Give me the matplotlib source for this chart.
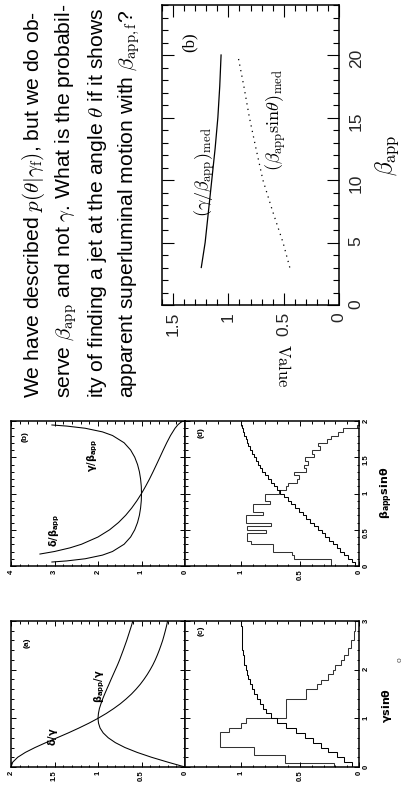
import matplotlib.pyplot as plt
from matplotlib.ticker import FixedLocator, MultipleLocator

# The slide is shown rotated 90 degrees (text reads bottom to top), so every
# plot is drawn with its original x axis running upward and its y axis
# running to the left.

plt.rcParams["font.family"] = ["Liberation Sans", "DejaVu Sans"]
plt.rcParams["mathtext.fontset"] = "cm"

W, H = 404, 790

# -- paragraph text --
text_lines = [
    r"We have described $p(\theta|\gamma_{\rm f})$, but we do ob-",
    r"serve $\beta_{\rm app}$ and not $\gamma$. What is the probabil-",
    r"ity of finding a jet at the angle $\theta$ if it shows",
    r"apparent superluminal motion with $\beta_{\rm app,f}$?",
]
line_x = [34, 66, 98, 129]

# -- right plot: median values vs beta_app --
beta_med = [3, 5, 7.5, 10, 12.5, 15, 17.5, 20]
gamma_over_beta_med = [1.245, 1.21, 1.18, 1.15, 1.12, 1.095, 1.078, 1.066]
beta_sin_med = [0.445, 0.506, 0.60, 0.688, 0.75, 0.81, 0.86, 0.915]
value_ticks = [0, 0.5, 1, 1.5]
value_tick_labels = ["0", "0.5", "1", "1.5"]
beta_ticks = [0, 5, 10, 15, 20]
beta_tick_labels = ["0", "5", "10", "15", "20"]

# -- panel (a): ratios vs gamma sin(theta) --
gsin = [0.0, 0.1, 0.2, 0.3, 0.4, 0.5, 0.6, 0.7, 0.8, 0.9, 1.0,
        1.1, 1.2, 1.3, 1.4, 1.5, 1.6, 1.7, 1.8, 1.9, 2.0,
        2.1, 2.2, 2.3, 2.4, 2.5, 2.6, 2.7, 2.8, 2.9, 3.0]
delta_over_gamma = [2.0, 1.98, 1.923, 1.835, 1.724, 1.6, 1.471, 1.342, 1.22, 1.105, 1.0,
                    0.905, 0.82, 0.743, 0.676, 0.615, 0.562, 0.514, 0.472, 0.434, 0.4,
                    0.369, 0.342, 0.318, 0.296, 0.276, 0.257, 0.241, 0.226, 0.212, 0.2]
bapp_over_gamma = [0.0, 0.198, 0.385, 0.55, 0.69, 0.8, 0.882, 0.94, 0.976, 0.994, 1.0,
                   0.995, 0.984, 0.966, 0.946, 0.923, 0.899, 0.874, 0.85, 0.825, 0.8,
                   0.775, 0.752, 0.731, 0.71, 0.69, 0.67, 0.652, 0.634, 0.616, 0.6]

# -- panel (b): ratios vs beta_app sin(theta) --
bsin_g = [0.055, 0.07, 0.1, 0.15, 0.2, 0.3, 0.4, 0.5, 0.6, 0.7, 0.8, 0.9, 1.0,
          1.1, 1.2, 1.3, 1.4, 1.5, 1.6, 1.7, 1.8, 1.85, 1.9, 1.93, 1.945]
gamma_over_bapp = [3.06, 2.72, 2.294, 1.898, 1.667, 1.4, 1.25, 1.155, 1.091, 1.048, 1.021, 1.005, 1.0,
                   1.005, 1.021, 1.048, 1.091, 1.155, 1.25, 1.4, 1.667, 1.898, 2.294, 2.72, 3.06]
bsin_d = [0.165, 0.2, 0.25, 0.3, 0.4, 0.5, 0.6, 0.7, 0.8, 0.9, 1.0,
          1.1, 1.2, 1.3, 1.4, 1.5, 1.6, 1.7, 1.8, 1.9, 1.95, 1.98, 1.99]
delta_over_bapp = [3.335, 3.0, 2.646, 2.38, 2.0, 1.732, 1.528, 1.363, 1.225, 1.106, 1.0,
                   0.905, 0.816, 0.734, 0.655, 0.577, 0.5, 0.42, 0.333, 0.229, 0.16, 0.1, 0.071]

# -- panel (c): histogram and cumulative of gamma sin(theta) --
c_edges = [0, 0.08, 0.24, 0.42, 0.72, 0.8, 0.9, 1.0, 1.4, 1.6, 1.7,
           1.78, 1.92, 2.0, 2.1, 2.2, 2.3, 2.45, 2.6, 2.8, 3.0]
c_hist = [0.21, 0.63, 0.89, 1.18, 1.11, 1.0, 0.96, 0.62, 0.45, 0.36,
          0.32, 0.26, 0.22, 0.2, 0.15, 0.13, 0.09, 0.07, 0.04, 0.03]
c_cum = [0.0, 0.06, 0.125, 0.19, 0.26, 0.325, 0.39, 0.46, 0.54, 0.62, 0.7,
         0.75, 0.79, 0.82, 0.845, 0.87, 0.89, 0.91, 0.925, 0.94, 0.955,
         0.965, 0.975, 0.982, 0.987, 0.991, 0.994, 0.996, 0.998, 0.999, 1.0]

# -- panel (d): histogram and cumulative of beta_app sin(theta) --
d_edges = [0.05 * i for i in range(41)]
d_hist = [0.24, 0.24, 0.55, 0.57, 0.73, 0.73, 0.92, 0.95, 0.95, 0.79,
          0.95, 0.75, 0.96, 0.96, 0.82, 0.9, 0.9, 0.76, 0.8, 0.8,
          0.68, 0.62, 0.6, 0.53, 0.51, 0.55, 0.45, 0.47, 0.43, 0.46,
          0.38, 0.4, 0.33, 0.35, 0.27, 0.24, 0.18, 0.14, 0.02, 0.0]
d_cum = [0.0, 0.03, 0.062, 0.094, 0.125, 0.158, 0.19, 0.222, 0.254, 0.286,
         0.318, 0.35, 0.382, 0.415, 0.447, 0.479, 0.511, 0.543, 0.575, 0.608,
         0.64, 0.67, 0.7, 0.726, 0.752, 0.777, 0.8, 0.823, 0.845, 0.863,
         0.88, 0.896, 0.912, 0.926, 0.94, 0.953, 0.965, 0.976, 0.985, 0.993, 1.0]


def box(x0, y0, x1, y1):
    # pixel box, origin at top-left -> figure fraction rect
    return [x0 / W, 1 - y1 / H, (x1 - x0) / W, (y1 - y0) / H]


def px(x, y):
    return x / W, 1 - y / H


fig = plt.figure(figsize=(W / 100, H / 100), dpi=100)

# PARAGRAPH
for x, line in zip(line_x, text_lines):
    fig.text(*px(x, 398), line, rotation=90, ha="center", va="bottom",
             fontsize=15.2)

# VALUE vs BETA_APP PLOT
ax = fig.add_axes(box(162, 5, 339, 305))
ax.plot(gamma_over_beta_med, beta_med, color="k", lw=0.9)
ax.plot(beta_sin_med, beta_med, color="k", lw=0.9, ls=(0, (1, 3.5)))
ax.set_xlim(1.6, 0)
ax.set_ylim(0, 24)
ax.xaxis.set_major_locator(FixedLocator(value_ticks))
ax.xaxis.set_ticklabels(value_tick_labels)
ax.xaxis.set_minor_locator(MultipleLocator(0.1))
ax.yaxis.set_major_locator(FixedLocator(beta_ticks))
ax.yaxis.set_ticklabels(beta_tick_labels)
ax.yaxis.set_minor_locator(MultipleLocator(1))
ax.tick_params(which="both", direction="in", top=True, bottom=True,
               left=True, right=True, labelleft=False, labelright=True,
               labelrotation=90, labelsize=12.5, labelcolor="0.15", width=0.8)
ax.tick_params(which="major", length=8.5)
ax.tick_params(which="minor", length=4.3)
ax.tick_params(axis="x", pad=5)
ax.tick_params(axis="y", pad=7)
for s in ax.spines.values():
    s.set_linewidth(1.1)

fig.text(*px(190, 42), "(b)", rotation=90, ha="center", va="center",
         fontsize=12, family="Liberation Serif")
fig.text(*px(205, 172), r"$(\gamma/\beta_{\rm app})_{\rm med}$", rotation=90,
         ha="center", va="center", fontsize=13)
fig.text(*px(276, 120), r"$(\beta_{\rm app}{\rm sin}\theta)_{\rm med}$",
         rotation=90, ha="center", va="center", fontsize=13)
fig.text(*px(387, 155), r"$\beta_{\rm app}$", rotation=90, ha="center",
         va="center", fontsize=17)
fig.text(*px(283, 366), r"$\rm Value$", rotation=270, ha="center",
         va="center", fontsize=12)


# FOUR-PANEL FIGURE
def panel(rect, xmax, xmaj, xmin, xlabs, ymax, ymaj, ymin, ylabs, right):
    a = fig.add_axes(rect)
    a.set_xlim(xmax, 0)
    a.set_ylim(0, ymax)
    a.xaxis.set_major_locator(FixedLocator(xmaj))
    a.xaxis.set_ticklabels(xlabs)
    a.xaxis.set_minor_locator(MultipleLocator(xmin))
    a.yaxis.set_major_locator(FixedLocator(ymaj))
    a.yaxis.set_ticklabels(ylabs)
    a.yaxis.set_minor_locator(MultipleLocator(ymin))
    a.tick_params(which="both", direction="in", top=True, bottom=True,
                  left=True, right=True, labelleft=False, labelright=right,
                  labelrotation=90, labelsize=5.5, width=0.7, pad=2.5)
    a.tick_params(which="major", length=3.5)
    a.tick_params(which="minor", length=1.8)
    for lbl in a.get_xticklabels() + a.get_yticklabels():
        lbl.set_fontweight("bold")
    for s in a.spines.values():
        s.set_linewidth(1.1)
    return a


ax_a = panel(box(11, 621, 185, 767), 2, [0, 0.5, 1, 1.5, 2], 0.1,
             ["0", "0.5", "1", "1.5", "2"], 3, [0, 1, 2, 3], 0.2,
             ["0", "1", "2", "3"], False)
ax_a.plot(delta_over_gamma, gsin, color="k", lw=0.75)
ax_a.plot(bapp_over_gamma, gsin, color="k", lw=0.75)

ax_b = panel(box(11, 421, 185, 566), 4, [0, 1, 2, 3, 4], 0.2,
             ["0", "1", "2", "3", "4"], 2, [0, 0.5, 1, 1.5, 2], 0.1,
             ["0", "0.5", "1", "1.5", "2"], False)
ax_b.plot(gamma_over_bapp, bsin_g, color="k", lw=0.75)
ax_b.plot(delta_over_bapp, bsin_d, color="k", lw=0.75)

ax_c = panel(box(185, 621, 359, 767), 1.48, [0, 0.5, 1], 0.1,
             ["0", "0.5", "1"], 3, [0, 1, 2, 3], 0.2,
             ["0", "1", "2", "3"], True)
ax_c.stairs(c_hist, c_edges, orientation="horizontal", color="0.2", lw=0.75)
ax_c.stairs(c_cum[1:], gsin, orientation="horizontal", baseline=None,
            color="k", lw=0.75)

ax_d = panel(box(185, 421, 359, 566), 1.48, [0, 0.5, 1], 0.1,
             ["0", "0.5", "1"], 2, [0, 0.5, 1, 1.5, 2], 0.1,
             ["0", "0.5", "1", "1.5", "2"], True)
ax_d.stairs(d_hist, d_edges, orientation="horizontal", color="0.2", lw=0.75)
ax_d.stairs(d_cum[1:], d_edges, orientation="horizontal", baseline=None,
            color="k", lw=0.75)

small = dict(rotation=90, ha="center", va="center", fontweight="bold")
fig.text(*px(27, 643), "(a)", fontsize=6, **small)
fig.text(*px(25, 437), "(b)", fontsize=6, **small)
fig.text(*px(201, 631), "(c)", fontsize=6, **small)
fig.text(*px(201, 433), "(d)", fontsize=6, **small)
fig.text(*px(53, 737), r"$\mathbf{\delta/\gamma}$", fontsize=7,
         math_fontfamily="dejavusans", **small)
fig.text(*px(100, 686), r"$\mathbf{\beta_{app}/\gamma}$", fontsize=7,
         math_fontfamily="dejavusans", **small)
fig.text(*px(55, 530), r"$\mathbf{\delta/\beta_{app}}$", fontsize=7,
         math_fontfamily="dejavusans", **small)
fig.text(*px(93, 455), r"$\mathbf{\gamma/\beta_{app}}$", fontsize=7,
         math_fontfamily="dejavusans", **small)
fig.text(*px(387, 705), r"$\mathbf{\gamma sin\theta}$", fontsize=8,
         math_fontfamily="dejavusans", **small)
fig.text(*px(387, 493), r"$\mathbf{\beta_{app}sin\theta}$", fontsize=8,
         math_fontfamily="dejavusans", **small)
fig.text(*px(400, 660), "o", fontsize=6, rotation=90, ha="center",
         va="center", color="0.3")

fig.savefig("out.png", dpi=100)
